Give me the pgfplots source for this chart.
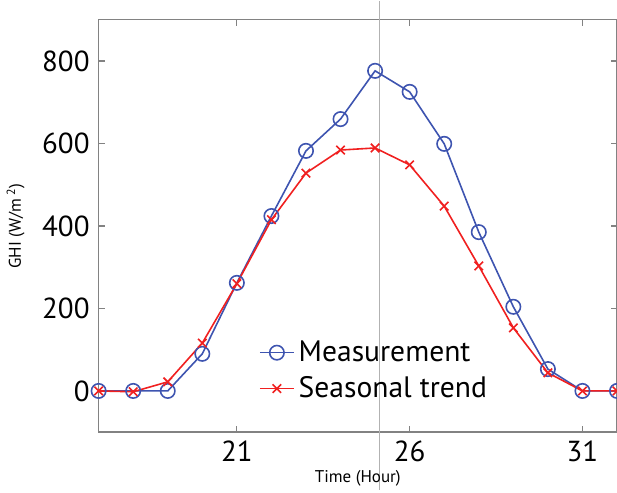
\documentclass[border=0pt]{standalone}
\usepackage{fontspec}
\setmainfont{PT Sans}
\usepackage{pgfplots}
\pgfplotsset{compat=1.18}
\definecolor{mblue}{RGB}{62,84,176}
\definecolor{mred}{RGB}{240,32,32}
\definecolor{axgray}{RGB}{130,130,130}
\begin{document}
\begin{tikzpicture}[trim axis right]
\begin{axis}[
  scale only axis,
  width=259.5pt, height=206.5pt,
  xmin=17, xmax=32, ymin=-100, ymax=900,
  xtick={21,26,31}, ytick={0,200,400,600,800},
  tick align=inside,
  major tick length=3pt,
  axis line style={axgray, line width=0.7pt},
  tick style={axgray, line width=0.6pt},
  /pgf/number format/assume math mode=true,
  ticklabel style={font=\fontsize{14.5}{16}\selectfont},
  xticklabel style={yshift=-1pt},
  yticklabel style={xshift=-1pt},
  xlabel={Time (Hour)},
  ylabel={GHI (W/m\,\textsuperscript{2})},
  label style={font=\fontsize{8.5}{10}\selectfont},
  xlabel style={yshift=3pt},
  ylabel style={yshift=2pt},
  clip=false,
  legend style={draw=none, fill=none, at={(axis cs:21.63,-34)}, anchor=south west,
    font=\fontsize{14.8}{16}\selectfont, row sep=2pt, inner sep=0pt},
  legend cell align=left,
]
\draw[gray!60, line width=0.7pt] (axis cs:25.13,-240) -- (axis cs:25.13,946);
\addplot[mblue, line width=0.8pt, mark=o, mark size=3.6pt, mark options={line width=0.8pt}] coordinates {
(17,0) (18,0) (19,0) (20,90) (21,262) (22,424) (23,582) (24,659) (25,776) (26,725) (27,599) (28,385) (29,204) (30,53) (31,0) (32,0)
};
\addlegendentry{Measurement}
\addplot[mred, line width=0.8pt, mark=x, mark size=3pt, mark options={line width=0.8pt}] coordinates {
(17,0) (18,-2) (19,22) (20,116) (21,260) (22,415) (23,528) (24,584) (25,589) (26,548) (27,448) (28,303) (29,153) (30,44) (31,0) (32,0)
};
\addlegendentry{Seasonal trend}
\end{axis}
\end{tikzpicture}
\end{document}
